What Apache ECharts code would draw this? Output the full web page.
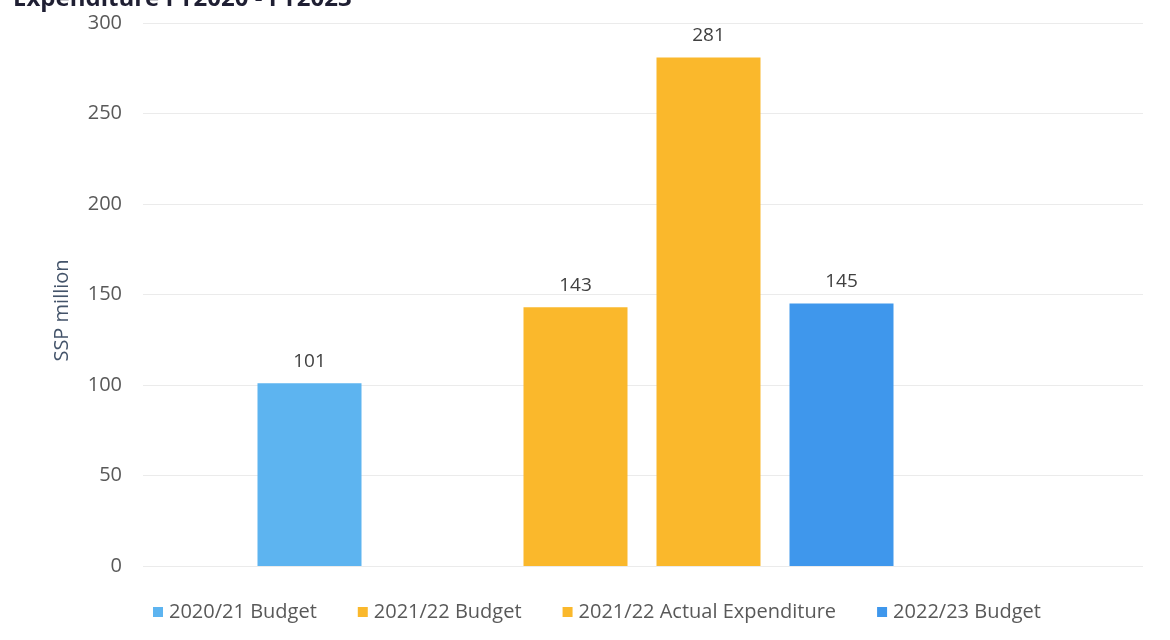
<!DOCTYPE html>
<html>
<head>
<meta charset="utf-8">
<script src="https://cdn.jsdelivr.net/npm/echarts@6/dist/echarts.min.js"></script>
<style>
html,body{margin:0;padding:0;background:#fff;}
#chart{width:1170px;height:640px;}
</style>
</head>
<body>
<div id="chart"></div>
<script>
// Data
var titleText = "Expenditure FY2020 - FY2023";
var seriesNames = ["2020/21 Budget", "2021/22 Budget", "2021/22 Actual Expenditure", "2022/23 Budget"];
var seriesValues = [101, 143, 281, 145];
var seriesSlots = [0, 2, 3, 4];           // category slot for each bar (slot 1 left empty)
var slotLabels = ["2020/21 Budget", "", "2021/22 Budget", "2021/22 Actual Expenditure", "2022/23 Budget"];
var seriesColors = ["#5DB4F0", "#FAB82C", "#FAB82C", "#3F97EC"];
var yTicks = [0, 50, 100, 150, 200, 250, 300];

var FONT = "Open Sans";
var yMin = yTicks[0], yMax = yTicks[yTicks.length - 1];

var series = seriesNames.map(function (name, i) {
  var data = slotLabels.map(function () { return null; });
  data[seriesSlots[i]] = seriesValues[i];
  return {
    name: name,
    type: 'bar',
    stack: 'one',
    xAxisIndex: 1,
    yAxisIndex: 1,
    barWidth: 104,
    data: data,
    itemStyle: { color: seriesColors[i] },
    label: {
      show: true,
      position: 'top',
      distance: 12,
      color: '#404040',
      fontFamily: FONT,
      fontSize: 19,
      formatter: function (p) { return p.value == null ? '' : String(p.value); }
    }
  };
});

var chart = echarts.init(document.getElementById('chart'), null, { renderer: 'canvas' });
chart.setOption({
  animation: false,
  backgroundColor: '#ffffff',
  title: {
    text: titleText,
    left: 8,
    top: -18,
    textStyle: { fontFamily: FONT, fontSize: 24, fontWeight: 'bold', color: '#1F1F33' }
  },
  legend: {
    data: seriesNames,
    left: 148,
    top: 597,
    itemWidth: 10,
    itemHeight: 10,
    itemGap: 41,
    icon: 'rect',
    textStyle: { fontFamily: FONT, fontSize: 20, color: '#595959', padding: [0, 0, 0, 1] }
  },
  grid: [
    { left: 143, right: 27, top: 23, bottom: 74, containLabel: false },
    { left: 243, right: 262, top: 23, bottom: 74, containLabel: false }
  ],
  xAxis: [
    { type: 'value', gridIndex: 0, show: false },
    {
      type: 'category',
      gridIndex: 1,
      data: slotLabels,
      boundaryGap: true,
      show: false
    }
  ],
  yAxis: [
    {
      type: 'value',
      gridIndex: 0,
      min: yMin,
      max: yMax,
      interval: 50,
      name: 'SSP million',
      nameLocation: 'middle',
      nameGap: 71,
      nameTextStyle: { fontFamily: FONT, fontSize: 20, color: '#44546A', padding: [0, 32, 0, 0] },
      axisLine: { show: false },
      axisTick: { show: false },
      axisLabel: { margin: 21, fontFamily: FONT, fontSize: 20, color: '#595959' },
      splitLine: { show: true, lineStyle: { color: '#EBEBEB', width: 1 } }
    },
    {
      type: 'value',
      gridIndex: 1,
      min: yMin,
      max: yMax,
      interval: 50,
      show: false,
      splitLine: { show: false }
    }
  ],
  series: series
});
</script>
</body>
</html>
